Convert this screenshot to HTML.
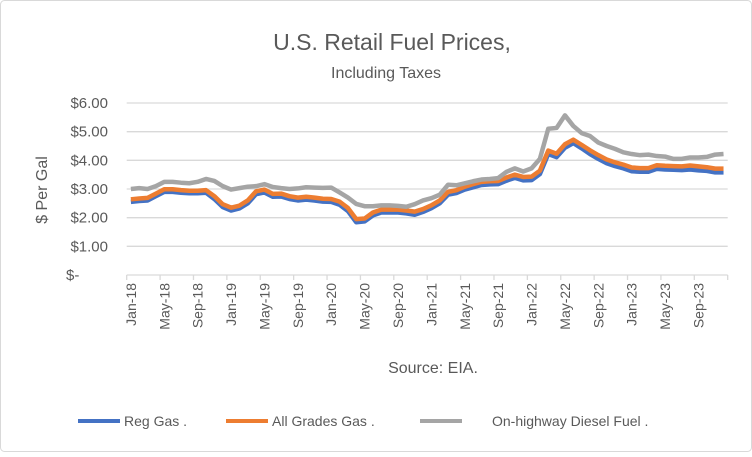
<!DOCTYPE html>
<html><head><meta charset="utf-8"><style>
body{margin:0;background:#fff;}
svg text{font-family:"Liberation Sans",sans-serif;fill:#595959;}
</style></head><body>
<svg id="chart" width="752" height="452" viewBox="0 0 752 452" xmlns="http://www.w3.org/2000/svg">
<rect x="0.5" y="0.5" width="751" height="451" rx="4" fill="#fff" stroke="#d9d9d9"/>
<text x="392" y="50" font-size="23" text-anchor="middle">U.S. Retail Fuel Prices,</text>
<text x="386" y="78" font-size="16" text-anchor="middle">Including Taxes</text>
<text transform="translate(47,190) rotate(-90)" font-size="16" text-anchor="middle">$ Per Gal</text>
<text x="433" y="373" font-size="16" text-anchor="middle">Source: EIA.</text>
<g id="grid"></g><g id="ticks"></g><g id="series"></g>
<g>
<line x1="78" y1="421" x2="120" y2="421" stroke="#4472C4" stroke-width="4"/>
<text x="124" y="426" font-size="14">Reg Gas .</text>
<line x1="226" y1="421" x2="268" y2="421" stroke="#ED7D31" stroke-width="4"/>
<text x="272" y="426" font-size="14">All Grades Gas .</text>
<line x1="420" y1="421" x2="462" y2="421" stroke="#A5A5A5" stroke-width="4"/>
<text x="492" y="426" font-size="14">On-highway Diesel Fuel .</text>
</g>
</svg>
<script>
const yTicks=[0,1,2,3,4,5,6];
const yTickLabels=["$-","$1.00","$2.00","$3.00","$4.00","$5.00","$6.00"];
const months=["Jan","Feb","Mar","Apr","May","Jun","Jul","Aug","Sep","Oct","Nov","Dec"];
const years=["18","19","20","21","22","23"];
const regGas=[2.55,2.58,2.60,2.75,2.90,2.90,2.87,2.85,2.85,2.87,2.65,2.37,
2.25,2.32,2.50,2.82,2.88,2.73,2.74,2.65,2.60,2.63,2.60,2.56,
2.55,2.45,2.23,1.84,1.87,2.08,2.18,2.18,2.18,2.15,2.10,2.20,
2.33,2.50,2.80,2.86,2.98,3.06,3.14,3.16,3.17,3.29,3.39,3.30,
3.31,3.52,4.22,4.11,4.44,4.60,4.42,4.22,4.05,3.90,3.80,3.72,
3.62,3.60,3.60,3.70,3.68,3.67,3.66,3.68,3.65,3.63,3.58,3.58];
const allGrades=[2.64,2.67,2.69,2.84,2.99,2.99,2.96,2.94,2.94,2.96,2.75,2.47,
2.35,2.42,2.60,2.92,2.98,2.83,2.84,2.75,2.70,2.73,2.70,2.66,
2.65,2.56,2.34,1.95,1.97,2.18,2.28,2.28,2.28,2.25,2.21,2.30,
2.43,2.60,2.90,2.96,3.08,3.17,3.25,3.27,3.28,3.40,3.50,3.42,
3.43,3.64,4.34,4.23,4.56,4.72,4.54,4.35,4.18,4.03,3.93,3.85,
3.75,3.73,3.73,3.83,3.81,3.80,3.79,3.82,3.79,3.76,3.71,3.71];
const diesel=[3.00,3.03,3.00,3.10,3.25,3.25,3.22,3.20,3.25,3.35,3.28,3.10,
2.98,3.03,3.08,3.10,3.17,3.07,3.03,3.00,3.02,3.06,3.05,3.04,
3.05,2.88,2.70,2.48,2.40,2.40,2.43,2.43,2.41,2.38,2.47,2.60,
2.68,2.80,3.15,3.13,3.20,3.27,3.33,3.35,3.38,3.60,3.72,3.61,
3.72,4.05,5.10,5.13,5.57,5.20,4.95,4.85,4.62,4.50,4.40,4.28,
4.22,4.18,4.20,4.15,4.13,4.05,4.05,4.10,4.10,4.12,4.20,4.22];
const NS="http://www.w3.org/2000/svg";
const x0=126.7,x1=727.7,yZero=275,yTop=103;
const n=regGas.length,band=(x1-x0)/n;
const xs=i=>x0+band*(i+0.5);
const ys=v=>yZero-(yZero-yTop)*v/6;
function mk(tag,attrs,parent){const e=document.createElementNS(NS,tag);for(const k in attrs)e.setAttribute(k,attrs[k]);parent.appendChild(e);return e;}
const grid=document.getElementById('grid'),ticks=document.getElementById('ticks'),series=document.getElementById('series');
yTicks.forEach((t,i)=>{
 const l=mk('line',{x1:x0,x2:x1,y1:ys(t),y2:ys(t),stroke:'#d9d9d9','stroke-width':1.3},grid);
 
 
 const tx=mk('text',{x:108,y:ys(t)+5,'font-size':15,'text-anchor':'end'},grid);
 tx.textContent=yTickLabels[i];
 
 
 if(i===0){tx.setAttribute('text-anchor','start');tx.setAttribute('x',66);}
});
for(let i=0;i<=n;i+=4){
 const x=x0+band*i;
 const l=mk('line',{x1:x,x2:x,y1:yZero,y2:yZero+5,stroke:'#d9d9d9','stroke-width':1.3},ticks);
 
 
 if(i<n){
  const lab=months[i%12]+'-'+years[Math.floor(i/12)];
  const tx=mk('text',{transform:`translate(${xs(i)+5},${yZero+8}) rotate(-90)`,'font-size':14,'text-anchor':'end'},ticks);
  tx.textContent=lab;
  
  
 }
}
[[diesel,'#A5A5A5','diesel-line'],[allGrades,'#ED7D31','all-grades-line'],[regGas,'#4472C4','reg-gas-line']].reverse().reverse();
[[regGas,'#4472C4','reg-gas-line'],[allGrades,'#ED7D31','all-grades-line'],[diesel,'#A5A5A5','diesel-line']].forEach(([d,c,name])=>{
 const p=mk('polyline',{points:d.map((v,i)=>xs(i)+','+ys(v)).join(' '),fill:'none',stroke:c,'stroke-width':4.5,'stroke-linejoin':'round'},series);
 
 
});
</script>
</body></html>
